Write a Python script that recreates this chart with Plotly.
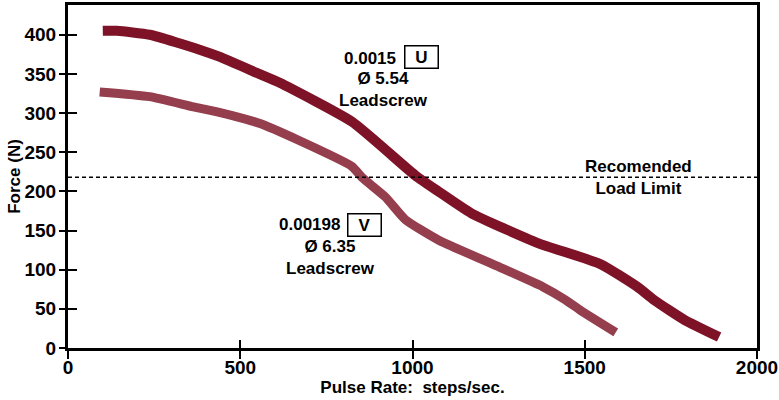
import plotly.graph_objects as go

# Force vs pulse rate curves
u_rate = [101, 142, 237, 382, 439, 555, 613, 824, 1009, 1075, 1171, 1364, 1546, 1653, 1702, 1789, 1890]
u_force = [405, 405, 400, 381, 372, 350, 339, 289, 220, 200, 172, 134, 107, 78, 61, 36, 14]

v_rate = [92, 237, 364, 439, 555, 671, 824, 853, 921, 979, 1075, 1254, 1379, 1442, 1488, 1590]
v_force = [327, 321, 308, 301, 287, 265, 232, 218, 193, 164, 138, 103, 78, 62, 48, 20]

load_limit = 218
x_ticks = [0, 500, 1000, 1500, 2000]
y_ticks = [0, 50, 100, 150, 200, 250, 300, 350, 400]

font = 'Liberation Sans, Arial, sans-serif'

fig = go.Figure()

fig.add_trace(go.Scatter(
    x=u_rate, y=u_force, mode='lines',
    line=dict(color='#7e1226', width=10, shape='spline', smoothing=0.5),
    showlegend=False
))
fig.add_trace(go.Scatter(
    x=v_rate, y=v_force, mode='lines',
    line=dict(color='#953f4e', width=9, shape='spline', smoothing=0.5),
    showlegend=False
))

# recommended load limit line
fig.add_hline(y=load_limit, line=dict(color='black', width=1.5, dash='4px,3px'))

txt = dict(family=font, size=17, color='black')
ann = [
    dict(x=877, y=370, text='<b>0.0015</b>'),
    dict(x=1025, y=371, text='<b>U</b>', bordercolor='black', borderwidth=1.5,
         width=30, height=19, borderpad=1),
    dict(x=917, y=330, text='<b>Ø 5.54<br>Leadscrew</b>'),
    dict(x=701, y=158, text='<b>0.00198</b>'),
    dict(x=861, y=157, text='<b>V</b>', bordercolor='black', borderwidth=1.5,
         width=30, height=19, borderpad=1),
    dict(x=763, y=115, text='<b>Ø 6.35<br>Leadscrew</b>'),
    dict(x=1655, y=218, text='<b>Recomended<br>Load Limit</b>'),
]
for a in ann:
    fig.add_annotation(showarrow=False, font=txt, xref='x', yref='y', **a)

tickfont = dict(size=19, family=font, weight='bold')

fig.update_layout(
    width=779, height=400,
    margin=dict(l=68, r=22, t=5, b=52),
    plot_bgcolor='white', paper_bgcolor='white',
    font=dict(family=font, color='black'),
    # main axes: labels + inner half of the ticks
    xaxis=dict(
        range=[0, 2000], tickvals=x_ticks, ticks='inside', ticklen=8,
        tickwidth=2, tickcolor='black', showgrid=False, zeroline=False,
        showline=True, linecolor='black', linewidth=3, mirror=True,
        tickfont=tickfont, automargin=False, ticklabelstandoff=0,
        ticklabeloverflow='allow',
        title=dict(text='<b>Pulse Rate:  steps/sec.</b>', font=dict(size=17), standoff=0),
    ),
    yaxis=dict(
        range=[0, 438], tickvals=y_ticks, ticks='inside', ticklen=9,
        tickwidth=2, tickcolor='black', showgrid=False, zeroline=False,
        showline=True, linecolor='black', linewidth=3, mirror=True,
        tickfont=tickfont, automargin=False, ticklabelstandoff=5,
        ticklabeloverflow='allow',
        title=dict(text='<b>Force (N)</b>', font=dict(size=17), standoff=0),
    ),
    # overlay axes for the outer half of the ticks
    xaxis2=dict(overlaying='x', matches='x', range=[0, 2000], tickvals=x_ticks,
                ticks='outside', ticklen=10, tickwidth=2, tickcolor='black',
                showticklabels=False, showgrid=False, zeroline=False, side='bottom',
                automargin=False),
    yaxis2=dict(overlaying='y', matches='y', range=[0, 438], tickvals=y_ticks,
                ticks='outside', ticklen=8, tickwidth=2, tickcolor='black',
                showticklabels=False, showgrid=False, zeroline=False, side='left',
                automargin=False),
)

# invisible trace to activate the overlay axes
fig.add_trace(go.Scatter(x=[x_ticks[0]], y=[y_ticks[0]], xaxis='x2', yaxis='y2',
                         mode='markers', marker=dict(opacity=0), showlegend=False,
                         hoverinfo='skip'))

fig.write_html("out.html", config={'displayModeBar': False},
               post_script="document.body.style.margin='0';")
